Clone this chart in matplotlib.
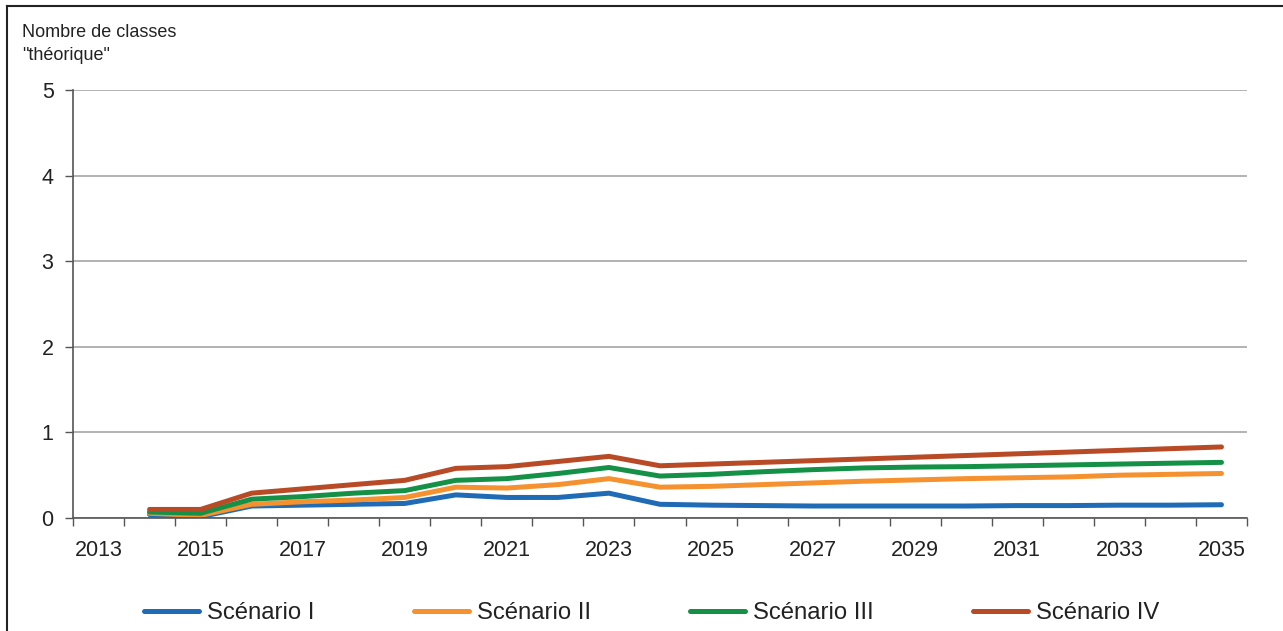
import matplotlib
matplotlib.use("Agg")
import matplotlib.pyplot as plt
from matplotlib.lines import Line2D

plt.rcParams["font.family"] = ["Liberation Sans", "DejaVu Sans"]

# category axis 2013..2035, series start in 2014
categories = list(range(2013, 2036))
years = list(range(2014, 2036))

scenario_1 = [0.04, 0.015, 0.14, 0.15, 0.16, 0.17, 0.27, 0.24, 0.24, 0.29, 0.16,
              0.15, 0.145, 0.14, 0.14, 0.14, 0.14, 0.145, 0.145, 0.15, 0.15, 0.155]
scenario_2 = [0.055, 0.03, 0.16, 0.19, 0.21, 0.24, 0.36, 0.35, 0.39, 0.46, 0.36,
              0.37, 0.39, 0.41, 0.43, 0.445, 0.46, 0.47, 0.48, 0.50, 0.51, 0.52]
scenario_3 = [0.07, 0.055, 0.22, 0.25, 0.29, 0.32, 0.44, 0.46, 0.52, 0.59, 0.49,
              0.51, 0.54, 0.565, 0.585, 0.595, 0.60, 0.61, 0.62, 0.63, 0.64, 0.65]
scenario_4 = [0.10, 0.10, 0.29, 0.34, 0.39, 0.44, 0.58, 0.60, 0.66, 0.72, 0.61,
              0.63, 0.65, 0.67, 0.69, 0.71, 0.73, 0.75, 0.77, 0.79, 0.81, 0.83]

series = [
    ("Scénario I", scenario_1, "#1f6bb5"),
    ("Scénario II", scenario_2, "#f5922f"),
    ("Scénario III", scenario_3, "#149146"),
    ("Scénario IV", scenario_4, "#b84a26"),
]

fig = plt.figure(figsize=(12.83, 6.31), dpi=100)
ax = fig.add_axes([73 / 1283, 1 - 518 / 631, (1247 - 73) / 1283, (518 - 90) / 631])

x = [categories.index(y) for y in years]
for label, vals, color in series:
    ax.plot(x, vals, color=color, lw=3.6, label=label,
            solid_capstyle="round", solid_joinstyle="round")

ax.set_xlim(-0.5, len(categories) - 0.5)
ax.set_ylim(0, 5)

# tick marks on category boundaries, labels every other year
ax.set_xticks([i - 0.5 for i in range(len(categories) + 1)])
ax.set_xticklabels([])
ax.set_xticks(list(range(0, len(categories), 2)), minor=True)
ax.set_xticklabels([str(categories[i]) for i in range(0, len(categories), 2)], minor=True)
ax.tick_params(axis="x", which="major", length=6, width=1, color="#555555", direction="out")
ax.tick_params(axis="x", which="minor", length=0, pad=16, labelsize=15.5, labelcolor="#222222")

ax.set_yticks(range(0, 6))
ax.tick_params(axis="y", length=6, width=1, color="#555555", pad=8, labelsize=15.5,
               labelcolor="#222222")

ax.grid(axis="y", color="#a6a6a6", lw=1.2)
ax.set_axisbelow(True)
for side in ("top", "right"):
    ax.spines[side].set_visible(False)
for side in ("left", "bottom"):
    ax.spines[side].set_color("#555555")
    ax.spines[side].set_linewidth(1.2)

fig.text(22 / 1283, 1 - 37 / 631, "Nombre de classes", fontsize=13,
         color="#222222", va="baseline")
fig.text(22 / 1283, 1 - 60 / 631, '"théorique"', fontsize=13,
         color="#222222", va="baseline")

fig.legend(loc="center", bbox_to_anchor=(0.508, 1 - 613 / 631), ncol=4,
           frameon=False, fontsize=17.2, handlelength=2.3, handletextpad=0.35,
           columnspacing=4.15, labelcolor="#222222")

# outer frame (left and top edges)
fig.add_artist(Line2D([7 / 1283, 7 / 1283], [0, 1 - 6 / 631], transform=fig.transFigure,
                      color="#222222", lw=1.5))
fig.add_artist(Line2D([7 / 1283, 1], [1 - 6 / 631, 1 - 6 / 631], transform=fig.transFigure,
                      color="#222222", lw=1.5))

fig.savefig("out.png", dpi=100)
